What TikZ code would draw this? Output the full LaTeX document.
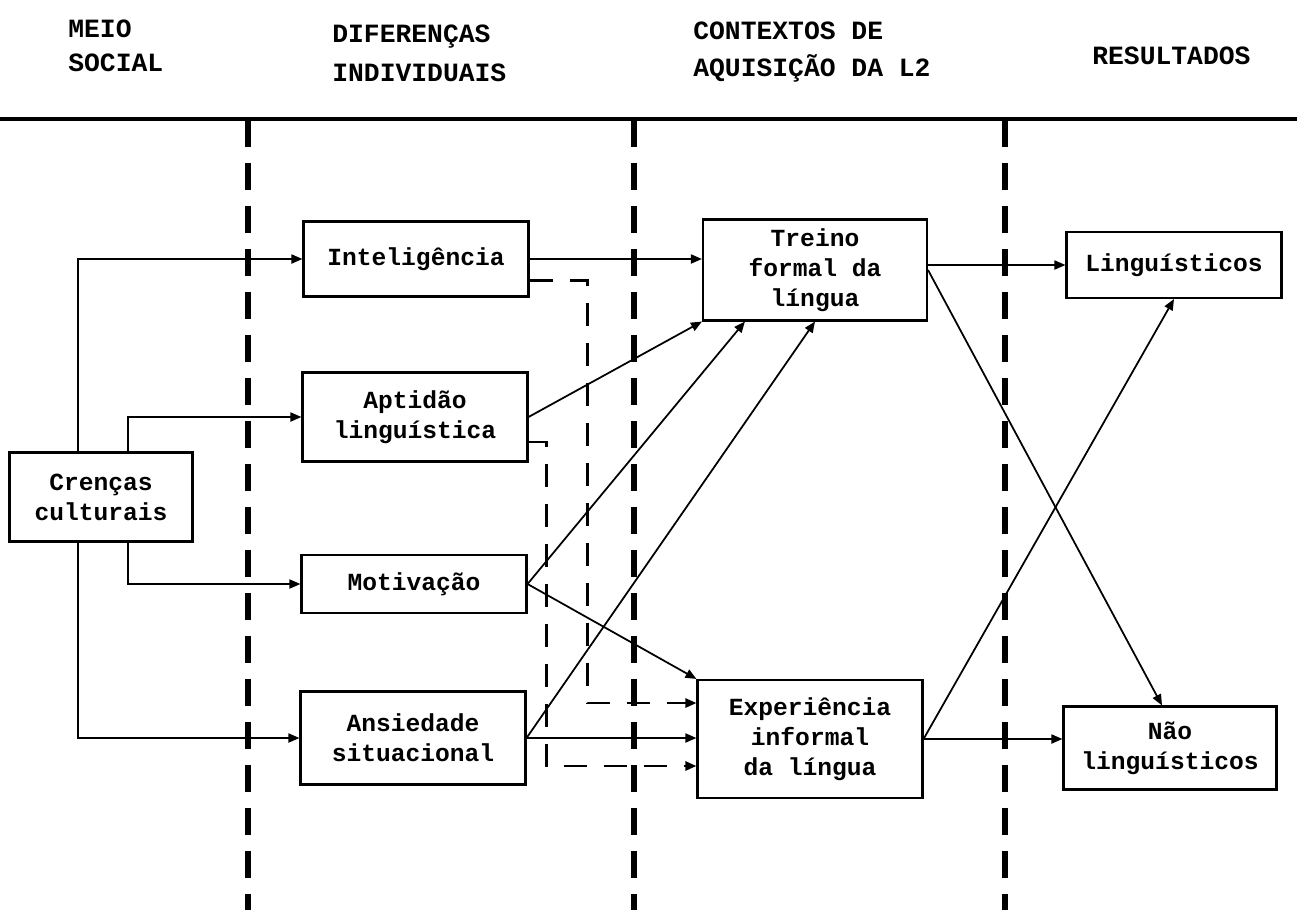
\documentclass[tikz,border=0pt]{standalone}
\usepackage{fontspec}
\setmainfont{Liberation Mono}
\usetikzlibrary{calc}
\usetikzlibrary{arrows.meta}
\tikzset{
  caixa/.style={draw, line width=1.2pt, align=center, inner sep=0pt, minimum width=4.5cm, font=\bfseries\fontsize{14}{17}\selectfont},
  seta/.style={line width=1pt, -{Triangle[length=2.2mm,width=1.8mm]}},
  retro/.style={seta, line width=1.4pt, dash pattern=on 0.46cm off 0.34cm},
  divisao/.style={line width=3.4pt, dash pattern=on 0.54cm off 0.32cm},
  titulo/.style={anchor=west, align=left, inner sep=0pt, font=\bfseries\fontsize{15}{19}\selectfont}
}
\begin{document}
\begin{tikzpicture}[x=0.02cm, y=-0.02cm]
    \useasboundingbox (0,0) rectangle (1297,913);
    \node[titulo] (meio) at (68,46) {MEIO\\SOCIAL};
    \node[titulo] (difer) at (332,53) {DIFERENÇAS\\[3pt]INDIVIDUAIS};
    \node[titulo] (contx) at (693,52) {CONTEXTOS DE\\[2pt]AQUISIÇÃO DA L2};
    \node[titulo] (resul) at (1092,56) {RESULTADOS};
    \draw[line width=2.8pt] (0,119) -- (1297,119);
    \foreach \x in {248,634,1005} \draw[divisao] (\x,120) -- (\x,910);

    \node[caixa, minimum width=3.66cm, minimum height=1.78cm] (cren) at (101,497) {Crenças\\culturais};
    \node[caixa, minimum height=1.5cm] (intel) at (416,259) {Inteligência};
    \node[caixa, minimum height=1.78cm] (apt) at (415,417) {Aptidão\\linguística};
    \node[caixa, minimum height=1.16cm] (motiv) at (414,584) {Motivação};
    \node[caixa, minimum height=1.86cm] (ansi) at (413,738) {Ansiedade\\situacional};
    \node[caixa, minimum width=4.48cm, minimum height=2.02cm] (treino) at (815,270) {Treino\\formal da\\língua};
    \node[caixa, minimum height=2.36cm] (exper) at (810,739) {Experiência\\informal\\da língua};
    \node[caixa, minimum width=4.3cm, minimum height=1.32cm] (ling) at (1174,265) {Linguísticos};
    \node[caixa, minimum width=4.26cm, minimum height=1.66cm] (nao) at (1170,748) {Não\\linguísticos};

    \coordinate (ramoA) at (78,0);
    \coordinate (ramoB) at (128,0);
    \draw[seta] (cren.north -| ramoA) |- (intel);
    \draw[seta] (cren.north -| ramoB) |- (apt);
    \draw[seta] (cren.south -| ramoB) |- (motiv);
    \draw[seta] (cren.south -| ramoA) |- (ansi);

    \draw[seta] (intel.east) -- (intel.east -| treino.west);
    \draw[seta] (apt.east) -- (treino.south west);
    \draw[seta] (motiv.east) -- ($(treino.south west)!0.19!(treino.south east)$);
    \draw[seta] (ansi.east) -- (treino.south);
    \draw[seta] (motiv.east) -- (exper.north west);
    \draw[seta] (ansi.east) -- (ansi.east -| exper.west);
    \draw[retro] ([yshift=0.34cm]intel.south east) -| ([xshift=-2.18cm,yshift=0.72cm]exper.west) -- ([yshift=0.72cm]exper.west);
    \draw[retro] ([yshift=-0.5cm]apt.east) -| ([xshift=-3cm,yshift=-0.54cm]exper.west) -- ([yshift=-0.54cm]exper.west);

    \draw[seta] (ling.west -| treino.east) -- (ling.west);
    \draw[seta] (treino.east) -- ([xshift=-0.16cm]nao.north);
    \draw[seta] (exper.east) -- (ling.south);
    \draw[seta] (exper.east) -- (exper.east -| nao.west);
\end{tikzpicture}
\end{document}
